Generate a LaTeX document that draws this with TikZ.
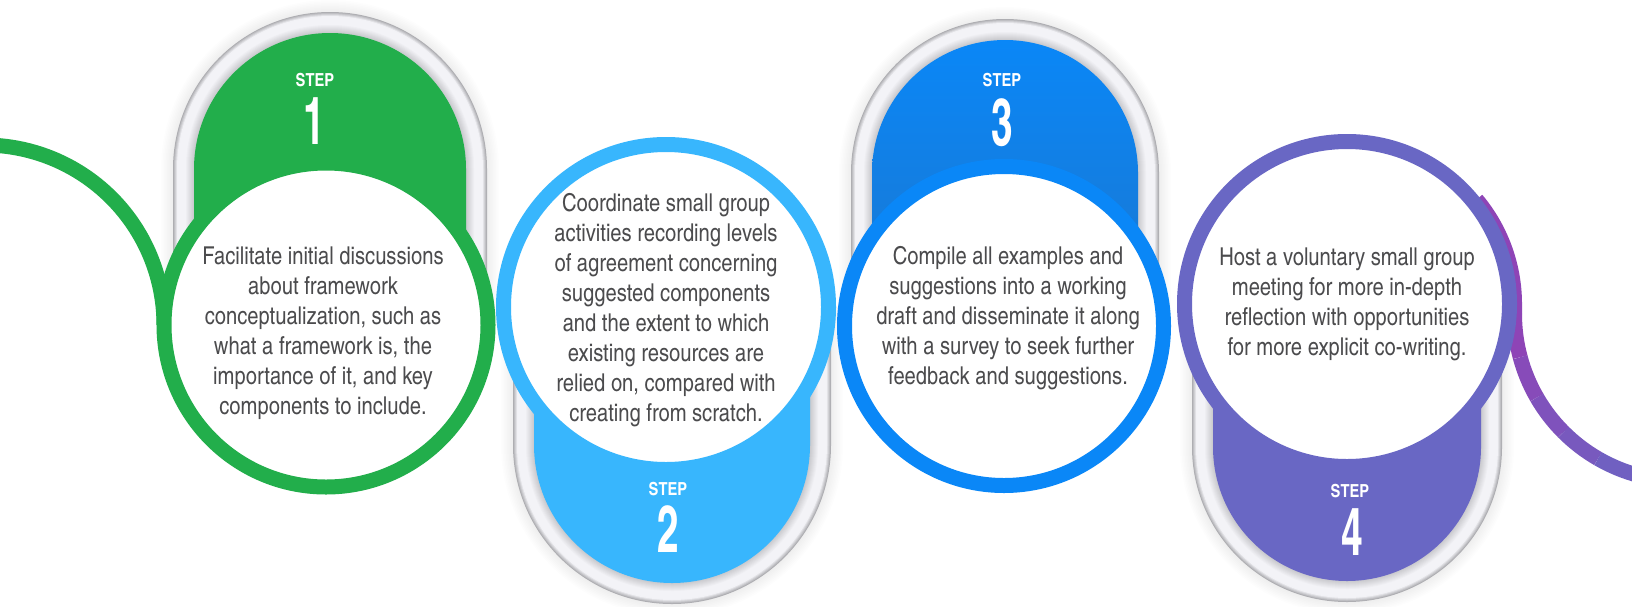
\documentclass[tikz,border=0pt]{standalone}
\usepackage{fontspec}
\setmainfont{texgyreheroscn}[Extension=.otf, UprightFont=*-regular, BoldFont=*-bold]

\definecolor{stepgreen}{HTML}{22AE4B}
\definecolor{steplight}{HTML}{38B6FD}
\definecolor{stepblue}{HTML}{0A87F7}
\definecolor{stepbluedk}{HTML}{1C76CE}
\definecolor{steppurple}{HTML}{6967C4}
\definecolor{wavemagenta}{HTML}{8E44B6}
\definecolor{bodygray}{HTML}{4B4B4D}

% pill behind a circle: cx, cy, outer radius, far end, end angle (360 up / 0 down), fill
\newcommand{\steppill}[6]{%
  % soft haze round the rim
  \foreach \k in {1,...,8}
    \fill[black, opacity=0.008] (#1-#3-1.5*\k,#4) -- (#1-#3-1.5*\k,#2)
      arc[start angle=180, end angle=#5, radius=#3+1.5*\k]
      -- (#1+#3+1.5*\k,#4) -- cycle;
  % metal rim, dark outside, light in the middle
  \foreach \k in {0,...,20} {
    \pgfmathtruncatemacro\lev{min(243,174+17*\k)-max(0,5*(\k-12))}
    \pgfmathtruncatemacro\levb{\lev+4}
    \fill[color={rgb,255:red,\lev;green,\lev;blue,\levb}]
      (#1-#3+\k,#4) -- (#1-#3+\k,#2)
      arc[start angle=180, end angle=#5, radius=#3-\k]
      -- (#1+#3-\k,#4) -- cycle;
  }
  \path[#6] (#1-#3+21,#4) -- (#1-#3+21,#2)
      arc[start angle=180, end angle=#5, radius=#3-21]
      -- (#1+#3-21,#4) -- cycle;
}

\begin{document}
\begin{tikzpicture}[x=0.5pt, y=-0.5pt,
    ring/.style={draw=#1, line width=7.5pt, fill=white},
    wave/.style={line width=7.5pt},
    body/.style={font=\fontsize{12.3}{15}\selectfont, text=bodygray,
                 align=center, inner sep=0pt},
    steplbl/.style={font=\fontsize{9}{9}\selectfont\bfseries, text=white,
                    inner sep=0pt},
    stepnum/.style={font=\fontsize{33}{33}\selectfont\bfseries, text=white,
                    inner sep=0pt}
  ]
  \fill[white] (0,0) rectangle (1632,606);
  \useasboundingbox (0,0) rectangle (1632,606);

  \coordinate (c1) at (326,325);
  \coordinate (c2) at (666,307);
  \coordinate (c3) at (1004,326);
  \coordinate (c4) at (1347,304);

  % Pills, alternately up and down.
  \steppill{330}{169}{157}{325}{360}{fill=stepgreen}
  \steppill{672}{445}{159}{307}{0}{fill=steplight}
  \steppill{1005}{173}{154}{326}{360}{top color=stepblue, bottom color=stepbluedk}
  \steppill{1347}{447}{155}{304}{0}{fill=steppurple}

  % The wave coming in and going out.
  \draw[wave, stepgreen] (-16,325) ++(-100:180)
    arc[start angle=-100, end angle=0, radius=180];
  \draw[wave, wavemagenta] (1352,304) ++(-40:162.5)
    arc[start angle=-40, end angle=0, radius=162.5] -- ++(0,10);
  \foreach \a [count=\i from 0] in {180,165,150,135,120} {
    \pgfmathtruncatemacro\mix{100-20*\i}
    \draw[wave, draw=wavemagenta!\mix!steppurple] (1681.5,314) ++(\a:167)
      arc[start angle=\a, end angle=\a-15, radius=167];
  }

  % Circles.
  \draw[ring=stepgreen]  (c1) circle[radius=162];
  \draw[ring=steplight]  (c2) circle[radius=162.5];
  \draw[ring=stepblue]   (c3) circle[radius=159.5];
  \draw[ring=steppurple] (c4) circle[radius=162.5];

  % Step labels.
  \node[steplbl] (lbl1) at (315,80.5)  {STEP};
  \node[stepnum] (num1) at (314,121.5) {\scalebox{0.72}[1]{1}};
  \node[steplbl] (lbl2) at (668,489)   {STEP};
  \node[stepnum] (num2) at (668,529.5) {\scalebox{0.72}[1]{2}};
  \node[steplbl] (lbl3) at (1002,80.5) {STEP};
  \node[stepnum] (num3) at (1002,122.5) {\scalebox{0.72}[1]{3}};
  \node[steplbl] (lbl4) at (1350,491)  {STEP};
  \node[stepnum] (num4) at (1352,532)  {\scalebox{0.72}[1]{4}};

  % Texts in the circles.
  \node[body] (txt1) at (323,333.5) {Facilitate initial discussions\\
    about framework\\ conceptualization, such as\\ what a framework is, the\\
    importance of it, and key\\ components to include.};
  \node[body] (txt2) at (666,310.5) {Coordinate small group\\
    activities recording levels\\ of agreement concerning\\
    suggested components\\ and the extent to which\\
    existing resources are\\ relied on, compared with\\
    creating from scratch.};
  \node[body] (txt3) at (1008,318.5) {Compile all examples and\\
    suggestions into a working\\ draft and disseminate it along\\
    with a survey to seek further\\ feedback and suggestions.};
  \node[body] (txt4) at (1347,304.5) {Host a voluntary small group\\
    meeting for more in-depth\\ reflection with opportunities\\
    for more explicit co-writing.};

\end{tikzpicture}
\end{document}
